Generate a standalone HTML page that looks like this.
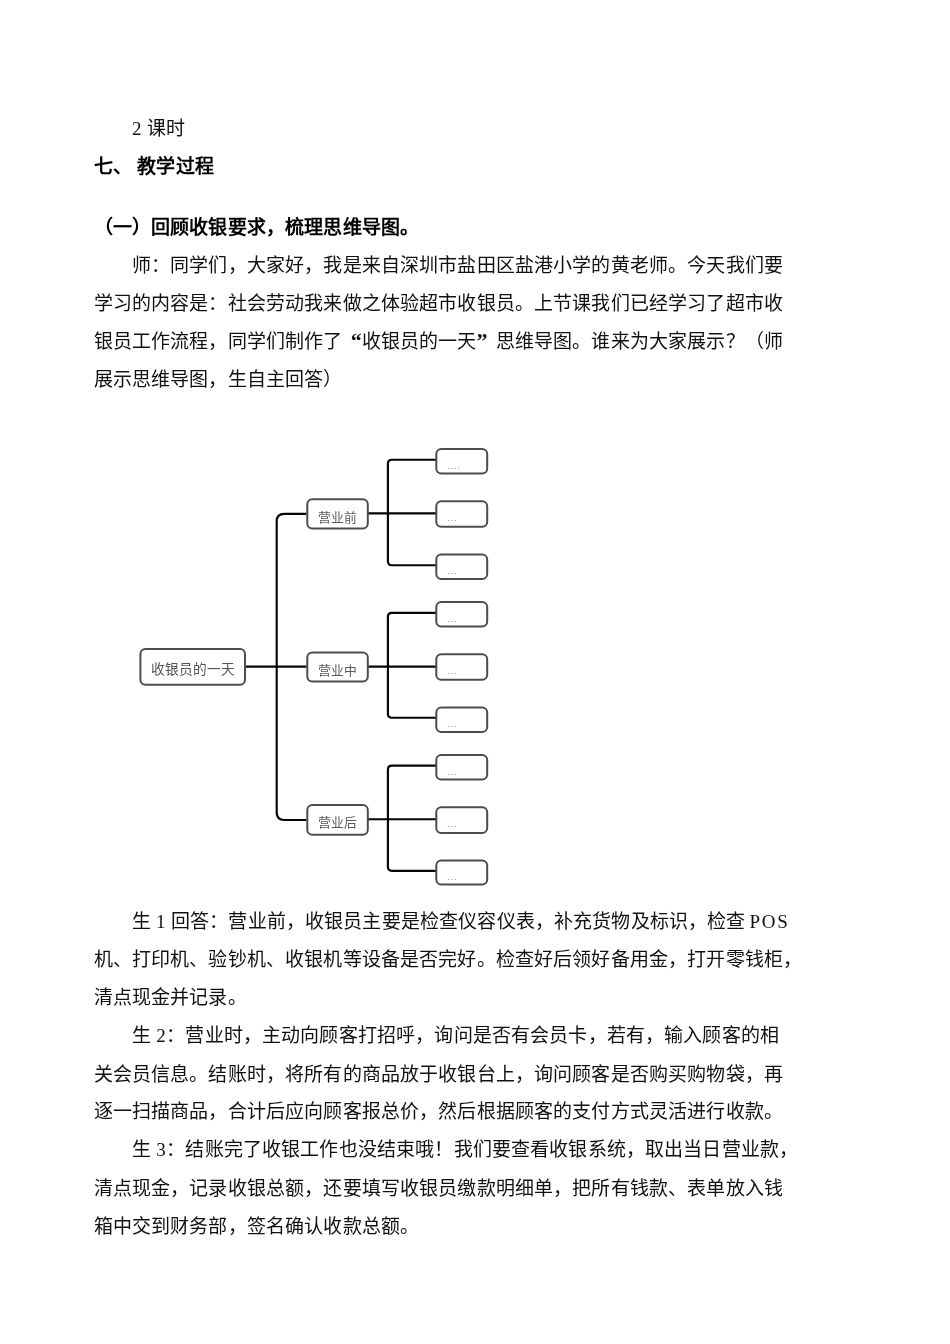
<!DOCTYPE html>
<html lang="zh-CN">
<head>
<meta charset="utf-8">
<title>教学过程</title>
<style>
html,body{margin:0;padding:0;background:#ffffff;}
body{width:950px;height:1344px;position:relative;overflow:hidden;font-family:"Liberation Serif",serif;color:#000;}
.page{position:absolute;left:0;top:0;width:950px;height:1344px;will-change:transform;}
.ln{position:absolute;white-space:nowrap;font-size:19px;letter-spacing:0.15px;line-height:38px;height:38px;font-family:"Liberation Serif",serif;color:#111;font-kerning:none;font-variant-east-asian:normal;}
.ln.b{font-weight:bold;color:#000;}
.sp{display:inline-block;width:5.3px;}
.q{display:inline-block;width:19.15px;letter-spacing:0;font-size:22px;line-height:1;font-weight:bold;}
.qo{text-align:right;}
.qc{text-align:left;}
.dg{position:absolute;left:0;top:0;}
.dg text{font-family:"Liberation Sans",sans-serif;}
.t1{font-size:13.7px;fill:#555;}
.t2{font-size:12.8px;fill:#5a5a5a;}
.t3{font-size:9px;fill:#8c8c8c;letter-spacing:0.7px;}
</style>
</head>
<body>
<div class="page">
<div class="ln " style="left:131.90px;top:110.25px"><span class="l" style="letter-spacing:0.4px">2 </span>课时</div>
<div class="ln b" style="left:93.60px;top:148.40px">七、<span class="sp"> </span>教学过程</div>
<div class="ln b" style="left:93.60px;top:209.30px">（一）回顾收银要求，梳理思维导图。</div>
<div class="ln " style="left:131.90px;top:246.90px">师：同学们，大家好，我是来自深圳市盐田区盐港小学的黄老师。今天我们要</div>
<div class="ln " style="left:93.60px;top:285.00px">学习的内容是：社会劳动我来做之体验超市收银员。上节课我们已经学习了超市收</div>
<div class="ln " style="left:93.60px;top:322.80px">银员工作流程，同学们制作了<span class="q qo">“</span>收银员的一天<span class="q qc">”</span>思维导图。谁来为大家展示？（师</div>
<div class="ln " style="left:93.60px;top:360.70px">展示思维导图，生自主回答）</div>
<div class="ln " style="left:131.90px;top:902.50px">生<span class="l" style="letter-spacing:0.3px"> 1 </span>回答：营业前，收银员主要是检查仪容仪表，补充货物及标识，检查<span class="l" style="letter-spacing:-0.75px"> </span><span class="l" style="letter-spacing:1.7px">POS</span></div>
<div class="ln " style="left:93.60px;top:940.90px">机、打印机、验钞机、收银机等设备是否完好。检查好后领好备用金，打开零钱柜，</div>
<div class="ln " style="left:93.60px;top:978.90px">清点现金并记录。</div>
<div class="ln " style="left:131.90px;top:1016.80px">生<span class="l" style="letter-spacing:0.5px"> 2</span>：营业时，主动向顾客打招呼，询问是否有会员卡，若有，输入顾客的相</div>
<div class="ln " style="left:93.60px;top:1055.50px">关会员信息。结账时，将所有的商品放于收银台上，询问顾客是否购买购物袋，再</div>
<div class="ln " style="left:93.60px;top:1093.40px">逐一扫描商品，合计后应向顾客报总价，然后根据顾客的支付方式灵活进行收款。</div>
<div class="ln " style="left:131.90px;top:1131.40px">生<span class="l" style="letter-spacing:0.5px"> 3</span>：结账完了收银工作也没结束哦！我们要查看收银系统，取出当日营业款，</div>
<div class="ln " style="left:93.60px;top:1169.50px">清点现金，记录收银总额，还要填写收银员缴款明细单，把所有钱款、表单放入钱</div>
<div class="ln " style="left:93.60px;top:1207.50px">箱中交到财务部，签名确认收款总额。</div>
<svg class="dg" width="950" height="1344" viewBox="0 0 950 1344"><g fill="none" stroke="#050505" stroke-width="2.15"><path d="M306.5 513.9 H284.2 Q276.7 513.9 276.7 521.4 V812.5 Q276.7 820.0 284.2 820.0 H306.5 M245.5 666.6 H306.5" /><path d="M436 459.7 H391.9 Q387.9 459.7 387.9 463.7 V561.2 Q387.9 565.2 391.9 565.2 H436 M368 513.4 H436" /><path d="M436 612.9 H391.9 Q387.9 612.9 387.9 616.9 V713.7 Q387.9 717.7 391.9 717.7 H436 M368 666.6 H436" /><path d="M436 765.6 H391.9 Q387.9 765.6 387.9 769.6 V866.8 Q387.9 870.8 391.9 870.8 H436 M368 819.2 H436" /></g><g fill="#ffffff" stroke="#4b4c51" stroke-width="2"><rect x="140.40" y="648.90" width="104.60" height="35.90" rx="5" ry="5"/><rect x="307.30" y="499.30" width="60.50" height="29.20" rx="5" ry="5"/><rect x="307.30" y="652.40" width="60.50" height="29.00" rx="5" ry="5"/><rect x="307.30" y="804.90" width="60.50" height="29.80" rx="5" ry="5"/><rect x="436.30" y="448.90" width="50.90" height="24.50" rx="5" ry="5"/><rect x="436.30" y="501.30" width="50.90" height="25.50" rx="5" ry="5"/><rect x="436.30" y="554.40" width="50.90" height="24.50" rx="5" ry="5"/><rect x="436.30" y="602.10" width="50.90" height="24.50" rx="5" ry="5"/><rect x="436.30" y="654.20" width="50.90" height="25.60" rx="5" ry="5"/><rect x="436.30" y="707.40" width="50.90" height="24.50" rx="5" ry="5"/><rect x="436.30" y="754.90" width="50.90" height="24.50" rx="5" ry="5"/><rect x="436.30" y="807.30" width="50.90" height="25.70" rx="5" ry="5"/><rect x="436.30" y="860.50" width="50.90" height="24.10" rx="5" ry="5"/></g><text class="t1" x="192.5" y="674.3" text-anchor="middle">收银员的一天</text><text class="t2" x="337.6" y="521.5" text-anchor="middle">营业前</text><text class="t2" x="337.6" y="674.7" text-anchor="middle">营业中</text><text class="t2" x="337.6" y="827.3" text-anchor="middle">营业后</text><text class="t3" x="447.6" y="468.5">....</text><text class="t3" x="447.6" y="520.9">...</text><text class="t3" x="447.6" y="574.0">...</text><text class="t3" x="447.6" y="621.7">...</text><text class="t3" x="447.6" y="673.8">...</text><text class="t3" x="447.6" y="727.0">...</text><text class="t3" x="447.6" y="774.5">...</text><text class="t3" x="447.6" y="826.9">...</text><text class="t3" x="447.6" y="880.1">...</text></svg>
</div>
</body>
</html>
